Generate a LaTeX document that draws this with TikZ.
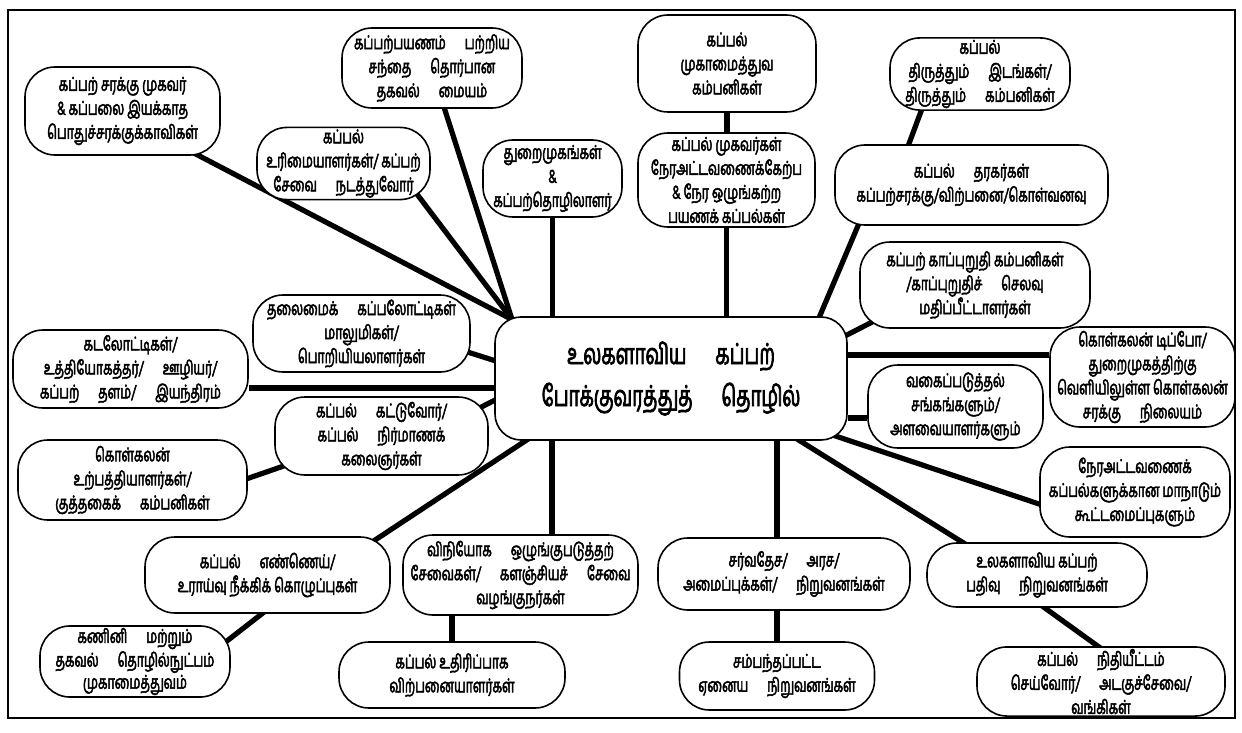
\documentclass[tikz,border=0pt]{standalone}
\usepackage{fontspec}
\newfontfamily\tam[Script=Tamil, FakeStretch=0.65, FakeBold=2.5]{Hind Madurai}
\usetikzlibrary{calc}
\pgfdeclarelayer{bg}
\pgfsetlayers{bg,main}
\tikzset{
  bx/.style={draw, line width=0.8pt, fill=white, rounded corners=15pt, align=center,
    inner sep=1pt, font=\tam\fontsize{9.5}{12}\selectfont},
  sz/.style 2 args={minimum width=#1*0.5pt, minimum height=#2*0.5pt},
  conn/.style={line width=2.6pt},
  frame/.style={line width=1.1pt}
}
\begin{document}
\begin{tikzpicture}[x=0.5pt,y=-0.5pt]
\useasboundingbox (0,0) rectangle (1242,733);
\draw[frame] (8,10) rectangle (1235,718);

\node[bx, sz={352}{123}, rounded corners=13pt, font=\tam\fontsize{14.4}{21}\selectfont] (c) at (671,378.5)
  {உலகளாவிய\quad கப்பற்\\போக்குவரத்துத்\quad தொழில்};

\node[bx, sz={195}{88}] (t1) at (122.5,111) {கப்பற் சரக்கு முகவர்\\\& கப்பலை இயக்காத\\பொதுச்சரக்குக்காவிகள்};
\node[bx, sz={180}{80}] (t2) at (432,68) {கப்பற்பயணம்\quad பற்றிய\\சந்தை\quad தொர்பான\\தகவல்\quad மையம்};
\node[bx, sz={173}{67}] (t3) at (343.5,163.5) {கப்பல்\\உரிமையாளர்கள்/ கப்பற்\\சேவை\quad நடத்துவோர்};
\node[bx, sz={139}{77}] (t4) at (552.5,178.5) {துறைமுகங்கள்\\\&\\கப்பற்தொழிலாளர்};
\node[bx, sz={178}{97}] (t5) at (727,63.5) {கப்பல்\\முகாமைத்துவ\\கம்பனிகள்};
\node[bx, sz={177}{94}] (t6) at (726.5,180) {கப்பல் முகவர்கள்\\நேரஅட்டவணைக்கேற்ப\\\& நேர ஒழுங்கற்ற\\பயணக் கப்பல்கள்};
\node[bx, sz={180}{72}] (t7) at (980,74) {கப்பல்\\திருத்தும்\quad இடங்கள்/\\திருத்தும்\quad கம்பனிகள்};
\node[bx, sz={273}{80}] (t8) at (971.5,185) {கப்பல்\quad தரகர்கள்\\கப்பற்சரக்கு/விற்பனை/கொள்வனவு};
\node[bx, sz={230}{86}] (t9) at (975,285) {கப்பற் காப்புறுதி கம்பனிகள்\\/காப்புறுதிச்\quad செலவு\\மதிப்பீட்டாளர்கள்};
\node[bx, sz={185}{100}] (t10) at (1142.5,377) {கொள்கலன் டிப்போ/\\துறைமுகத்திற்கு\\வெளியிலுள்ள கொள்கலன்\\சரக்கு\quad நிலையம்};
\node[bx, sz={175}{83}] (t11) at (955.5,406.5) {வகைப்படுத்தல்\\சங்கங்களும்/\\அளவையாளர்களும்};
\node[bx, sz={190}{90}] (t12) at (1135,492) {நேரஅட்டவணைக்\\கப்பல்களுக்கான மாநாடும்\\கூட்டமைப்புகளும்};
\node[bx, sz={220}{64}] (t13) at (1037,575) {உலகளாவிய கப்பற்\\பதிவு\quad நிறுவனங்கள்};
\node[bx, sz={248}{67}] (t14) at (1101,681.5) {கப்பல்\quad நிதியீட்டம்\\செய்வோர்/\quad அடகுச்சேவை/\\வங்கிகள்};
\node[bx, sz={252}{72}] (t15) at (784,574) {சர்வதேச/\quad அரச/\\அமைப்புக்கள்/\quad நிறுவனங்கள்};
\node[bx, sz={195}{68}] (t16) at (777,676) {சம்பந்தப்பட்ட\\ஏனைய\quad நிறுவனங்கள்};
\node[bx, sz={235}{80}] (t17) at (520.5,575) {விநியோக\quad ஒழுங்குபடுத்தற்\\சேவைகள்/\quad களஞ்சியச்\quad சேவை\\வழங்குநர்கள்};
\node[bx, sz={226}{66}] (t18) at (452,675) {கப்பல் உதிரிப்பாக\\விற்பனையாளர்கள்};
\node[bx, sz={245}{76}] (t19) at (267.5,575) {கப்பல்\quad எண்ணெய்/\\உராய்வு நீக்கிக் கொழுப்புகள்};
\node[bx, sz={190}{55}, font=\tam\fontsize{9.5}{9.5}\selectfont] (t20) at (135,661.5) {கணினி\quad மற்றும்\\தகவல்\quad தொழில்நுட்பம்\\முகாமைத்துவம்};
\node[bx, sz={229}{80}] (t21) at (132.5,480) {கொள்கலன்\\உற்பத்தியாளர்கள்/\\குத்தகைக்\quad கம்பனிகள்};
\node[bx, sz={213}{78}] (t22) at (381.5,436) {கப்பல்\quad கட்டுவோர்/\\கப்பல்\quad நிர்மாணக்\\கலைஞர்கள்};
\node[bx, sz={235}{78}] (t23) at (130.5,369) {கடலோட்டிகள்/\\உத்தியோகத்தர்/\quad ஊழியர்/\\கப்பற்\quad தளம்/\quad இயந்திரம்};
\node[bx, sz={217}{77}] (t24) at (361.5,333.5) {தலைமைக்\quad கப்பலோட்டிகள்\\மாலுமிகள்/\\பொறியியலாளர்கள்};

\begin{pgfonlayer}{bg}
\coordinate (hub) at ($(c)+(-159,-59)$);
\draw[conn] ($(t1)+(67.5,40)$) -- (hub);
\draw[conn] ($(t2)+(11,36)$) -- (hub);
\draw[conn] ($(t3)+(71.5,28)$) -- (hub);
\draw[conn] (t4.south) -- (t4.south |- c.north);
\draw[conn] (t5.south) -- (t5.south |- t6.north);
\draw[conn] (t6.south) -- (t6.south |- c.north);
\draw[conn] ($(t7)+(-57,32)$) -- ($(t8)+(-64.5,-36)$);
\draw[conn] ($(t8)+(-111.5,36)$) -- ($(c)+(146,-56)$);
\draw[conn] ($(t9)+(-97,34)$) -- ($(c)+(172,-41.5)$);
\draw[conn] ($(c.east)+(0,-23.5)$) coordinate (l10) -- (l10 -| t10.west);
\draw[conn] ($(c.east)+(0,39.5)$) coordinate (l11) -- (l11 -| t11.west);
\draw[conn] ($(c)+(160,56)$) -- ($(t12)+(-93,13)$);
\draw[conn] ($(c)+(122,58)$) -- ($(t13)+(-67,-28)$);
\draw[conn] ($(t13)+(1,28)$) -- ($(t14)+(7,-28)$);
\draw[conn] ($(c.south)+(106,0)$) coordinate (l15) -- (l15 |- t15.north);
\draw[conn] (t16.north) -- (t16.north |- t15.south);
\draw[conn] ($(c.south)+(-119,0)$) coordinate (l17) -- (l17 |- t17.north);
\draw[conn] (t18.north) -- (t18.north |- t17.south);
\draw[conn] ($(c)+(-139,58)$) -- ($(t19)+(97,-28)$);
\draw[conn] ($(t19)+(0.5,34)$) -- ($(t20)+(90,-19)$);
\draw[conn] ($(t21)+(105,2)$) -- ($(t22)+(-92,28)$);
\draw[conn] ($(t22)+(94,-26)$) -- ($(c)+(-172,19.5)$);
\draw[conn] ($(t23.east)+(0,19)$) coordinate (l23) -- (l23 -| c.west);
\draw[conn] ($(t24)+(106,18.5)$) -- ($(c)+(-172,-16.5)$);
\end{pgfonlayer}
\end{tikzpicture}
\end{document}
